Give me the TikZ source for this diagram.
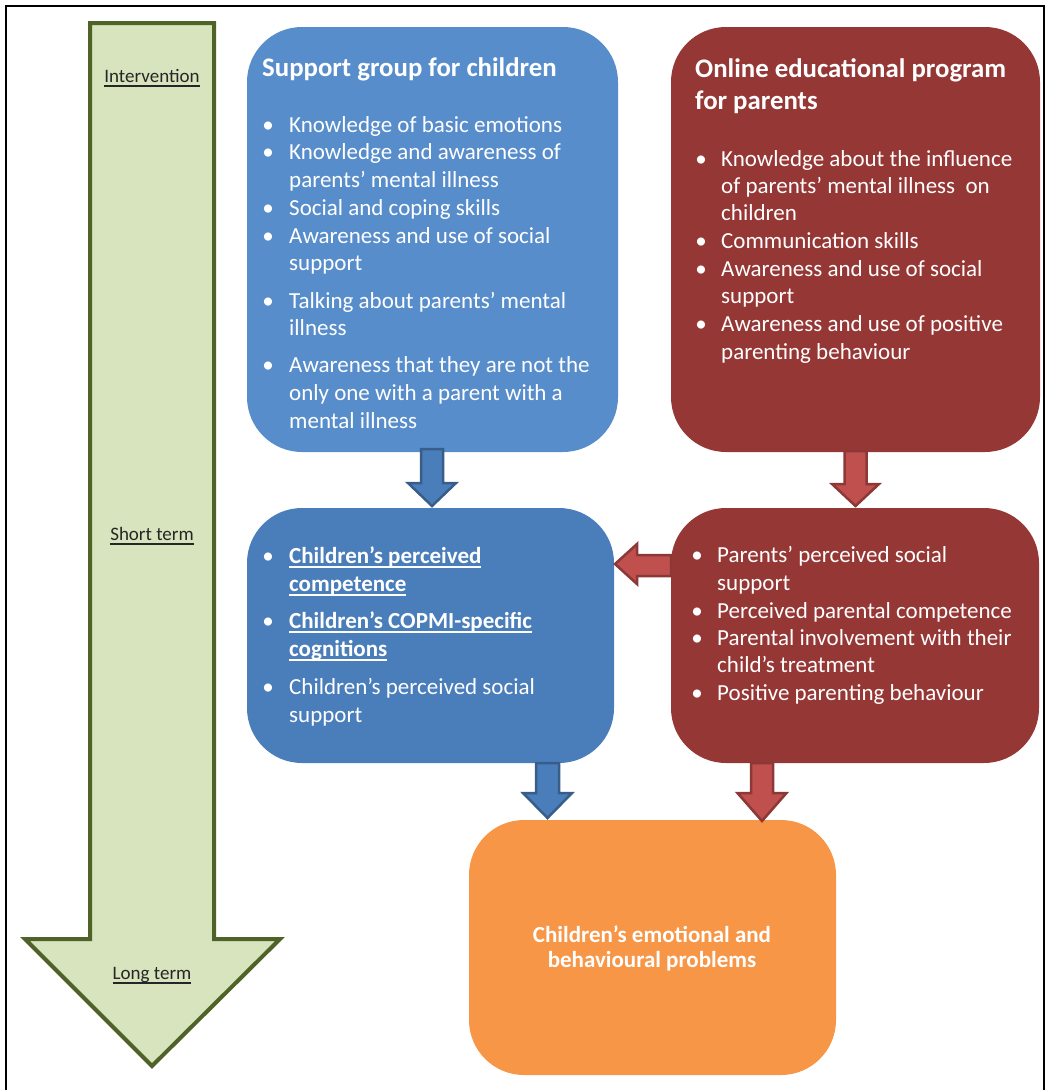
\documentclass[tikz,border=0pt]{standalone}
\usepackage{fontspec}
\setmainfont{Carlito}
\usetikzlibrary{calc}
\definecolor{gfill}{HTML}{D7E4BD}
\definecolor{gline}{HTML}{4F6228}
\definecolor{blueA}{HTML}{588DCB}
\definecolor{blueB}{HTML}{4A7EBB}
\definecolor{blueL}{HTML}{385D8A}
\definecolor{redA}{HTML}{953735}
\definecolor{redF}{HTML}{C0504D}
\definecolor{redL}{HTML}{8C3836}
\definecolor{orangeA}{HTML}{F79646}
\definecolor{lbl}{HTML}{262626}
\newcommand\myul[1]{\setbox0\hbox{#1}\rlap{\rule[-5pt]{\wd0}{1.8pt}}\box0}
\newcommand\myulsm[1]{\setbox0\hbox{#1}\rlap{\rule[-4.5pt]{\wd0}{1.5pt}}\box0}
\newcommand\blockdown[7]{%
  \draw[#7] (#1-#5,#2) -- (#1+#5,#2) -- (#1+#5,#3) -- (#1+#6,#3) -- (#1,#4) -- (#1-#6,#3) -- (#1-#5,#3) -- cycle;}
\tikzset{
  box/.style={rounded corners=55pt, inner sep=0, draw=none},
  txt/.style={anchor=base west, text=white, font=\fontsize{23}{27}\selectfont, inner sep=0},
  btxt/.style={txt, font=\bfseries\fontsize{23}{27}\selectfont},
  ttl/.style={anchor=base west, text=white, font=\bfseries\fontsize{26.8}{32}\selectfont, inner sep=0},
  bul/.style={anchor=base, text=white, font=\fontsize{23}{27}\selectfont, inner sep=0},
  glbl/.style={anchor=base, text=lbl, font=\fontsize{19}{23}\selectfont, inner sep=0},
  barrowB/.style={fill=blueB, draw=blueL, line width=2.5pt, line join=miter},
  barrowR/.style={fill=redF, draw=redL, line width=2.5pt, line join=miter},
}
\begin{document}
\begin{tikzpicture}[x=1pt,y=-1pt]
\useasboundingbox (0,0) rectangle (1047,1090);
% frame
\draw[line width=2.2pt] (6,1092) -- (6,6) -- (1044,6) -- (1044,1092);
% timeline arrow
\draw[fill=gfill, draw=gline, line width=4pt, line join=miter]
  (90,23) -- (214,23) -- (214,939) -- (280,939) -- (152,1066) -- (25,939) -- (90,939) -- cycle;
\node[glbl] (l1) at (152,82) {\myulsm{Intervention}};
\node[glbl] (l2) at (152,540) {\myulsm{Short term}};
\node[glbl] (l3) at (152,979) {\myulsm{Long term}};
% boxes
\node[box, fill=blueA, minimum width=371pt, minimum height=425pt] (b1) at (432.5,239.5) {};
\node[box, fill=redA, minimum width=369pt, minimum height=425pt] (b2) at (855.5,239.5) {};
\node[box, fill=blueB, minimum width=367pt, minimum height=255pt] (b3) at (430.5,635.5) {};
\node[box, fill=redA, minimum width=368pt, minimum height=255pt] (b4) at (855,635.5) {};
\node[box, fill=orangeA, minimum width=367pt, minimum height=255pt] (b5) at (652.5,947.5) {};
% box 1 text
\node[ttl] (t1) at (262,76) {Support group for children};
\foreach \t/\y [count=\i] in {Knowledge of basic emotions/132, Knowledge and awareness of/159, parents’ mental illness/187, Social and coping skills/215, Awareness and use of social/243, support/270, Talking about parents’ mental/308, illness/335, Awareness that they are not the/372, only one with a parent with a/400, mental illness/428}
  \node[txt] (a\i) at (289,\y) {\t};
\foreach \y [count=\i] in {132,159,215,243,308,372}
  \node[bul] (ab\i) at (268,\y) {•};
% box 2 text
\node[ttl] (t2a) at (695,77) {Online educational program};
\node[ttl] (t2b) at (695,109) {for parents};
\foreach \t/\y [count=\i] in {Knowledge about the influence/166, of parents’ mental illness\ \ on/193, children/220, Communication skills/248, Awareness and use of social/276, support/303, Awareness and use of positive/331, parenting behaviour/359}
  \node[txt] (c\i) at (721,\y) {\t};
\foreach \y [count=\i] in {166,248,276,331}
  \node[bul] (cb\i) at (701,\y) {•};
% box 3 text
\foreach \t/\y [count=\i] in {Children’s perceived/563, competence/591, Children’s COPMI-specific/628, cognitions/656}
  \node[btxt] (d\i) at (289,\y) {\myul{\t}};
\node[txt] (d5) at (289,694) {Children’s perceived social};
\node[txt] (d6) at (289,722) {support};
\foreach \y [count=\i] in {563,628,694}
  \node[bul] (db\i) at (268,\y) {•};
% box 4 text
\foreach \t/\y [count=\i] in {Parents’ perceived social/562, support/590, Perceived parental competence/618, Parental involvement with their/645, child’s treatment/672, Positive parenting behaviour/700}
  \node[txt] (e\i) at (717,\y) {\t};
\foreach \y [count=\i] in {562,618,645,700}
  \node[bul] (eb\i) at (697,\y) {•};
% box 5 text
\node[anchor=base, text=white, font=\bfseries\fontsize{23}{25}\selectfont, inner sep=0] (f1) at (652,942) {Children’s emotional and};
\node[anchor=base, text=white, font=\bfseries\fontsize{23}{25}\selectfont, inner sep=0] (f2) at (652,967) {behavioural problems};
% block arrows
\blockdown{432}{449}{483}{506}{11}{24}{barrowB}
\blockdown{855.5}{451}{484}{506}{11}{23.5}{barrowR}
\blockdown{547.5}{763}{793}{818}{11.5}{24.5}{barrowB}
\blockdown{762}{763}{793}{821}{11}{24.5}{barrowR}
\draw[barrowR] (671,555) -- (637,555) -- (637,544) -- (615,564) -- (637,584) -- (637,576) -- (671,576) -- cycle;
\end{tikzpicture}
\end{document}
